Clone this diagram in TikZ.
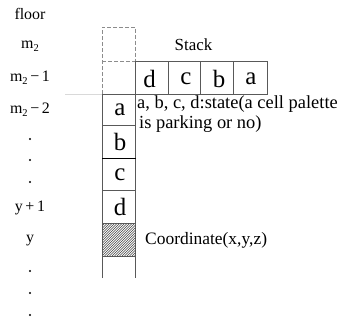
\documentclass[tikz,border=0pt]{standalone}
\usepackage{fontspec}
\setmainfont{Liberation Serif}
\newcommand\subtwo{\raisebox{-.4ex}{\fontsize{10.5}{10}\selectfont 2}}
\begin{document}
\begin{tikzpicture}[x=1bp,y=-1bp,
  rowlabel/.style={font=\fontsize{16}{18}\selectfont, inner sep=0pt, anchor=center},
  cellletter/.style={font=\fontsize{25}{26}\selectfont, inner sep=0pt, anchor=center},
  note/.style={font=\fontsize{18.5}{20}\selectfont, inner sep=0pt},
  gridline/.style={draw=black!65, line width=0.8bp},
  ghostline/.style={draw=black!45, line width=0.8bp, dashed, dash pattern=on 4bp off 2bp},
  dotmark/.style={circle, fill=black, inner sep=0pt, minimum size=2.2bp}]
\useasboundingbox (0,0) rectangle (343,320);

% row labels (floors)
\node[rowlabel] (floor) at (30,14) {floor};
\node[rowlabel] (m2) at (30,46) {m\subtwo};
\node[rowlabel] (m2a) at (30,78) {m\subtwo\,−\,1};
\node[rowlabel] (m2b) at (30,110) {m\subtwo\,−\,2};
\node[dotmark] (d1) at (30,139) {};
\node[dotmark] (d2) at (30,160) {};
\node[dotmark] (d3) at (30,182) {};
\node[rowlabel] (yp1) at (30,208) {y\,+\,1};
\node[rowlabel] (y0) at (30,241) {y};
\node[dotmark] (d4) at (30,271) {};
\node[dotmark] (d5) at (30,293) {};
\node[dotmark] (d6) at (30,315) {};

% faint guide at the m2-2 level
\draw[draw=black!15, line width=0.8bp] (65,94) -- (102,94);

% empty floors above (dashed)
\draw[ghostline] (102,94) -- (102,27) -- (135.5,27) -- (135.5,61);
\draw[ghostline] (102,61) -- (135.5,61);

% hatched coordinate cell
\begin{scope}
  \clip (102,223) rectangle (135.5,256);
  \foreach \k in {-40,-37.5,...,40}
    \draw[black!75, line width=0.6bp] (102+\k,256) -- (102+\k+40,216);
\end{scope}

% column of cells
\draw[gridline] (102,278) -- (102,94) -- (135.5,94) -- (135.5,278);
\draw[gridline] (102,125.5) -- (135.5,125.5);
\draw[draw=black, line width=1.3bp] (102,158.3) -- (135.5,158.3);
\draw[gridline] (102,190.7) -- (135.5,190.7);
\draw[gridline] (102,223) -- (135.5,223);
\draw[gridline] (102,256) -- (135.5,256);

\node[cellletter] (ca) at (120,109.5) {a};
\node[cellletter] (cb) at (120,142) {b};
\node[cellletter] (cc) at (120,174.5) {c};
\node[cellletter] (cd) at (120,207) {d};

% horizontal stack
\draw[gridline] (135.5,61) rectangle (267,94);
\draw[gridline] (168.5,61) -- (168.5,94);
\draw[gridline] (200.5,61) -- (200.5,94);
\draw[gridline] (233,61) -- (233,94);
\node[cellletter] (sd) at (149.5,78.5) {d};
\node[cellletter] (sc) at (186,78.5) {c};
\node[cellletter] (sb) at (219,78.5) {b};
\node[cellletter] (sa) at (251,78.5) {a};
\node[note, font=\fontsize{17}{18}\selectfont] (stack) at (193.5,44.5) {Stack};

% notes
\node[note, anchor=west] (state1) at (137,104) {a, b, c, d:state(a cell palette};
\node[note, anchor=west] (state2) at (139,124) {is parking or no)};
\node[note, anchor=west, font=\fontsize{17.5}{20}\selectfont] (coord) at (145,240) {Coordinate(x,y,z)};
\end{tikzpicture}
\end{document}
